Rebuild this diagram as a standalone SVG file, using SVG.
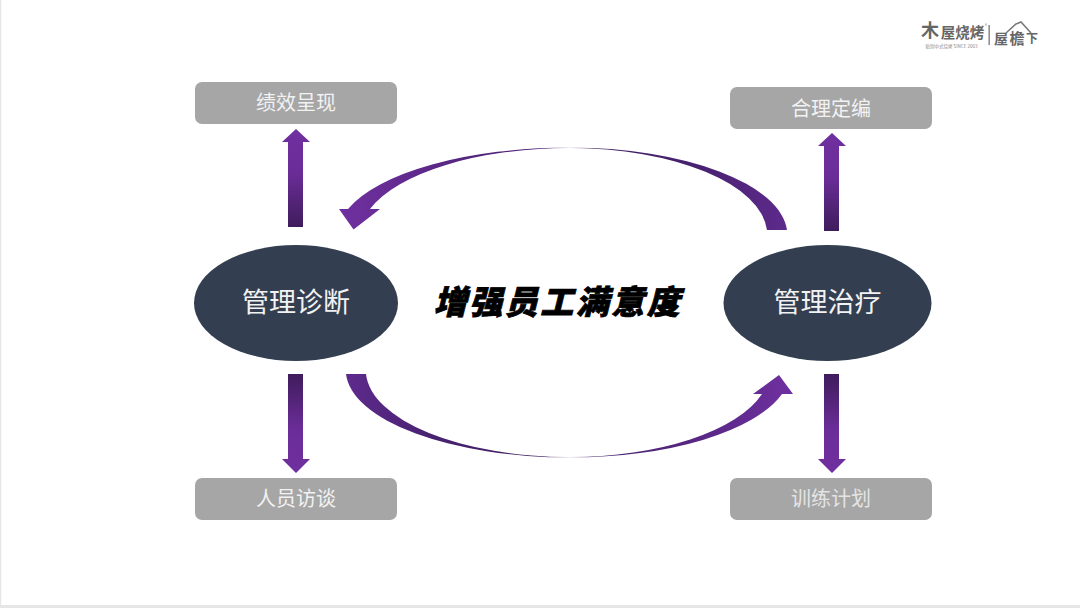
<svg xmlns="http://www.w3.org/2000/svg" width="1080" height="608" viewBox="0 0 1080 608">
<style>
text{font-family:"Noto Sans CJK SC","Noto Sans",sans-serif;text-anchor:middle}
.box{fill:#a6a6a6}
.boxt{font-size:20px;fill:#f2f2f2}
.oval{fill:#333f50}
.ovalt{font-size:27px;fill:#f2f2f2}
.logo{fill:#666;font-weight:700}
</style>
<defs>
<linearGradient id="up" x1="0" y1="0" x2="0" y2="1"><stop offset="0" stop-color="#7030a0"/><stop offset=".45" stop-color="#6a2d98"/><stop offset="1" stop-color="#3f1c5c"/></linearGradient>
<linearGradient id="down" x1="0" y1="1" x2="0" y2="0"><stop offset="0" stop-color="#7030a0"/><stop offset=".45" stop-color="#6a2d98"/><stop offset="1" stop-color="#3f1c5c"/></linearGradient>
<linearGradient id="arcT" gradientUnits="userSpaceOnUse" x1="340" y1="0" x2="787" y2="0"><stop offset="0" stop-color="#7030a0"/><stop offset=".33" stop-color="#50247a"/><stop offset=".46" stop-color="#50247a"/><stop offset=".515" stop-color="#e8e0ee"/><stop offset=".57" stop-color="#40205f"/><stop offset=".8" stop-color="#472270"/><stop offset="1" stop-color="#5e2a8c"/></linearGradient>
<linearGradient id="arcB" gradientUnits="userSpaceOnUse" x1="346" y1="0" x2="793" y2="0"><stop offset="0" stop-color="#5e2a8c"/><stop offset=".2" stop-color="#472270"/><stop offset=".44" stop-color="#40205f"/><stop offset=".5" stop-color="#e8e0ee"/><stop offset=".56" stop-color="#44206a"/><stop offset=".85" stop-color="#5e2a8c"/><stop offset="1" stop-color="#7030a0"/></linearGradient>
</defs>
<rect width="1080" height="608" fill="#fff"/>
<path d="M0 0H1.200V605H1080V608H0Z" fill="#e6e6e6"/>
<g id="connectors">
<path d="M288 227V142H282L296 129L310 142H303V227Z" fill="url(#up)"/>
<path d="M824 231V146H818L832 133L846 146H839V231Z" fill="url(#up)"/>
<path d="M288 374V459H282L296 473L310 459H303V374Z" fill="url(#down)"/>
<path d="M824 374V459H818L832 473L846 459H839V374Z" fill="url(#down)"/>
<path d="M787 230A217.400 87.500 0 0 0 570 147.500A232 87.500 0 0 0 348 209H339L353.500 229.500L380 209H370A210 87 0 0 1 570 148A197.400 87 0 0 1 767 230Z" fill="url(#arcT)"/>
<path d="M346 374A224 87.500 0 0 0 570 457.500A220 87.500 0 0 0 782 394H793L779 375L753 394H762A200 87 0 0 1 570 457A204 87 0 0 1 366 374Z" fill="url(#arcB)"/>
</g>
<g id="node-jixiao"><rect class="box" x="195" y="82" width="202" height="42" rx="7"/><text class="boxt" x="296" y="110">绩效呈现</text></g>
<g id="node-dingbian"><rect class="box" x="730" y="87" width="202" height="42" rx="7"/><text class="boxt" x="831" y="116">合理定编</text></g>
<g id="node-fangtan"><rect class="box" x="195" y="478" width="202" height="42" rx="7"/><text class="boxt" x="296" y="506">人员访谈</text></g>
<g id="node-xunlian"><rect class="box" x="730" y="478" width="202" height="42" rx="7"/><text class="boxt" x="831" y="506" style="fill:#e4e4e4">训练计划</text></g>
<g id="node-zhenduan"><ellipse class="oval" cx="296" cy="303" rx="102" ry="58"/><text class="ovalt" x="296" y="312">管理诊断</text></g>
<g id="node-zhiliao"><ellipse class="oval" cx="827.500" cy="303" rx="104" ry="58"/><text class="ovalt" x="827.500" y="312">管理治疗</text></g>
<g id="title"><text transform="translate(558 314) skewX(-14)" font-size="33" font-weight="900" letter-spacing="2.500" fill="#000" stroke="#000" stroke-width=".8">增强员工满意度</text></g>
<g id="logo">
<text class="logo" x="930" y="37" font-size="18">木</text>
<text class="logo" x="962.500" y="38" font-size="14.500">屋烧烤</text>
<text x="951.500" y="47.500" font-size="4.500" fill="#888">贴别中式烧烤 SINCE 2003</text>
<text x="986" y="27" font-size="4" fill="#888">®</text>
<rect x="988.500" y="25" width="1.300" height="20" fill="#777"/>
<text class="logo" x="1001" y="44" font-size="14">屋</text>
<text class="logo" x="1017" y="44" font-size="15">檐</text>
<text class="logo" x="1032" y="43" font-size="12">下</text>
<path d="M1006 33L1016 24L1021 22L1031 33" fill="none" stroke="#777" stroke-width="1.500"/>
</g>
</svg>
